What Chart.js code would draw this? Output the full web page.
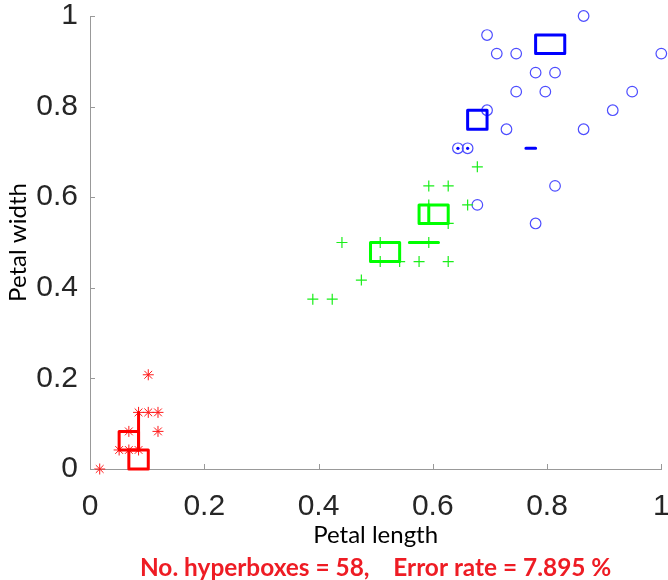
<!DOCTYPE html>
<html>
<head>
<meta charset="utf-8">
<script src="https://cdn.jsdelivr.net/npm/chart.js@4.4.1/dist/chart.umd.min.js"></script>
<style>
  html, body { margin: 0; padding: 0; background: #fff; }
</style>
</head>
<body>
<canvas id="c" width="668" height="580"></canvas>
<script>
// tick positions / labels (both axes)
const tickValues = [0, 0.2, 0.4, 0.6, 0.8, 1];
const tickLabels = ['0', '0.2', '0.4', '0.6', '0.8', '1'];

// class 1 (red *)
const class1X = [0.017, 0.051, 0.068, 0.085, 0.068, 0.119, 0.085, 0.102, 0.119, 0.102];
const class1Y = [0.000, 0.042, 0.042, 0.042, 0.083, 0.083, 0.125, 0.125, 0.125, 0.208];

// class 2 (green +)
const class2X = [0.390, 0.424, 0.441, 0.475, 0.508, 0.508, 0.542, 0.576, 0.627, 0.593, 0.627, 0.678, 0.593, 0.627, 0.661, 0.593];
const class2Y = [0.375, 0.375, 0.500, 0.417, 0.500, 0.458, 0.458, 0.458, 0.458, 0.625, 0.625, 0.667, 0.583, 0.542, 0.583, 0.500];

// class 3 (blue o)
const class3X = [0.864, 0.695, 0.712, 0.746, 1.000, 0.780, 0.814, 0.746, 0.797, 0.949, 0.695, 0.915, 0.729, 0.864, 0.644, 0.661, 0.814, 0.678, 0.780];
const class3Y = [1.000, 0.958, 0.917, 0.917, 0.917, 0.875, 0.875, 0.833, 0.833, 0.833, 0.792, 0.792, 0.750, 0.750, 0.708, 0.708, 0.625, 0.583, 0.542];

// hyperboxes: [xmin, xmax, ymin, ymax]
const class1Boxes = [
  [0.051, 0.085, 0.042, 0.083],
  [0.068, 0.102, 0.000, 0.042],
  [0.085, 0.085, 0.042, 0.125]
];
const class2Boxes = [
  [0.491, 0.542, 0.458, 0.500],
  [0.576, 0.627, 0.542, 0.583],
  [0.593, 0.593, 0.542, 0.583],
  [0.559, 0.610, 0.500, 0.500]
];
const class3Boxes = [
  [0.780, 0.831, 0.917, 0.958],
  [0.661, 0.695, 0.750, 0.792],
  [0.763, 0.780, 0.708, 0.708]
];
// point-sized hyperboxes
const class3DotX = [0.644, 0.661];
const class3DotY = [0.708, 0.708];

const caption = 'No. hyperboxes = 58,    Error rate = 7.895 %';

const AXIS = '#999999';
const zip = (xs, ys) => xs.map((x, i) => ({ x, y: ys[i] }));

function boxSets(boxes, color) {
  return boxes.map(b => ({
    data: [
      { x: b[0], y: b[2] }, { x: b[1], y: b[2] },
      { x: b[1], y: b[3] }, { x: b[0], y: b[3] }, { x: b[0], y: b[2] }
    ],
    showLine: true,
    borderColor: color,
    borderWidth: 3,
    borderJoinStyle: 'round',
    borderCapStyle: 'round',
    pointRadius: 0,
    fill: false,
    clip: false,
    order: 0
  }));
}

// inward tick marks like the original axes
const inTicks = {
  id: 'inTicks',
  afterDraw(chart) {
    const { ctx, chartArea: a, scales: { x, y } } = chart;
    ctx.save();
    ctx.strokeStyle = AXIS;
    ctx.lineWidth = 1;
    ctx.beginPath();
    tickValues.forEach(v => {
      const px = Math.round(x.getPixelForValue(v)) + 0.5;
      ctx.moveTo(px, a.bottom); ctx.lineTo(px, a.bottom - 5);
      const py = Math.round(y.getPixelForValue(v)) + 0.5;
      ctx.moveTo(a.left, py); ctx.lineTo(a.left + 5, py);
    });
    ctx.stroke();
    ctx.restore();
  }
};

const tickFont = { family: '"Liberation Sans", Arial, sans-serif', size: 30 };
const labelFont = { family: 'Lato, sans-serif', size: 24, lineHeight: 1.2 };

new Chart(document.getElementById('c'), {
  type: 'scatter',
  data: {
    datasets: [
      ...boxSets(class1Boxes, '#ff0000'),
      ...boxSets(class2Boxes, '#00ff00'),
      ...boxSets(class3Boxes, '#0000ff'),
      {
        data: zip(class3DotX, class3DotY),
        pointStyle: 'circle', pointRadius: 1.6,
        backgroundColor: '#0000ff', borderColor: '#0000ff', borderWidth: 0,
        clip: false, order: 0
      },
      {
        data: zip(class1X, class1Y),
        pointStyle: 'star', pointRadius: 5.5,
        borderColor: '#ff1a1a', backgroundColor: '#ff1a1a', borderWidth: 1,
        clip: false, order: 1
      },
      {
        data: zip(class2X, class2Y),
        pointStyle: 'cross', pointRadius: 5.5,
        borderColor: '#1aee1a', borderWidth: 1.2,
        clip: false, order: 1
      },
      {
        data: zip(class3X, class3Y),
        pointStyle: 'circle', pointRadius: 5.3,
        borderColor: '#4d4dff', backgroundColor: 'rgba(0,0,0,0)', borderWidth: 1.2,
        clip: false, order: 1
      }
    ]
  },
  options: {
    responsive: false,
    animation: false,
    events: [],
    layout: { padding: { left: 0, right: 3, top: 16, bottom: 0 } },
    plugins: {
      legend: { display: false },
      tooltip: { enabled: false },
      title: {
        display: true,
        position: 'bottom',
        fullSize: false,
        text: caption,
        color: '#ee1c24',
        font: { family: 'Lato, sans-serif', size: 24.4, weight: 'bold', lineHeight: 1 },
        padding: { top: 4.4, bottom: 0 }
      }
    },
    scales: {
      x: {
        type: 'linear', min: 0, max: 1,
        afterBuildTicks: s => { s.ticks = tickValues.map(v => ({ value: v })); },
        afterFit: s => { s.height = 82.2; s.paddingLeft = 0; s.paddingRight = 0; },
        ticks: {
          callback: (v, i) => tickLabels[i],
          font: tickFont, color: '#262626', padding: 20,
          maxRotation: 0, autoSkip: false
        },
        grid: { display: false, drawTicks: false },
        border: { display: true, color: AXIS, width: 1 },
        title: {
          display: true, text: 'Petal length', color: '#000',
          font: labelFont, padding: { top: 0, bottom: 2 }
        }
      },
      y: {
        type: 'linear', min: 0, max: 1,
        afterBuildTicks: s => { s.ticks = tickValues.map(v => ({ value: v })); },
        afterFit: s => { s.width = 90; s.paddingTop = 0; s.paddingBottom = 0; },
        ticks: {
          callback: (v, i) => tickLabels[i],
          font: tickFont, color: '#262626', padding: 12,
          autoSkip: false
        },
        grid: { display: false, drawTicks: false },
        border: { display: true, color: AXIS, width: 1 },
        title: {
          display: true, text: 'Petal width', color: '#000',
          font: labelFont, padding: { top: 4, bottom: 0 }
        }
      }
    }
  },
  plugins: [inTicks]
});
</script>
</body>
</html>
